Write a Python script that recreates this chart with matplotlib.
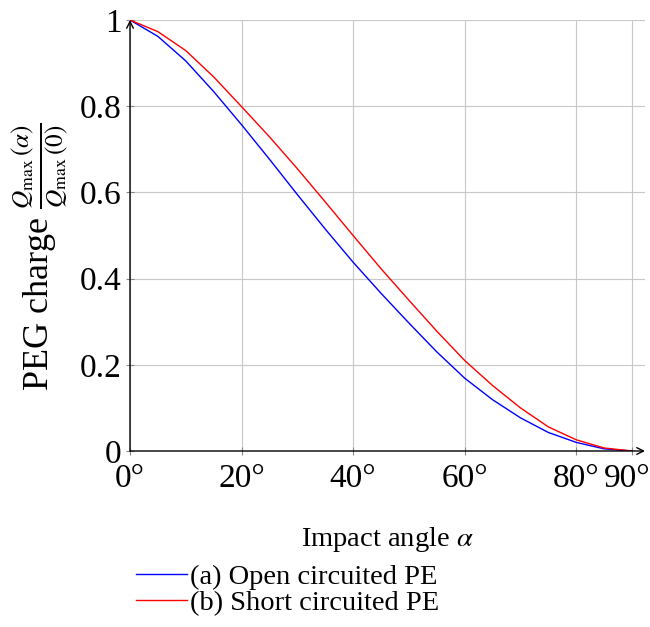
import matplotlib
matplotlib.use("Agg")
import matplotlib.pyplot as plt
import matplotlib.transforms as mtrans

# Data
angles = [0, 5, 10, 15, 20, 25, 30, 35, 40, 45, 50, 55, 60, 65, 70, 75, 80, 85, 90]
open_pe = [1.0, 0.962, 0.905, 0.834, 0.757, 0.677, 0.595, 0.515, 0.438, 0.366,
           0.297, 0.230, 0.169, 0.119, 0.077, 0.043, 0.020, 0.005, 0.0]
short_pe = [1.0, 0.973, 0.929, 0.868, 0.799, 0.729, 0.655, 0.578, 0.500, 0.423,
            0.350, 0.278, 0.210, 0.152, 0.100, 0.056, 0.026, 0.007, 0.0]
xticks = [0, 20, 40, 60, 80, 90]
xticklabels = ["0°", "20°", "40°", "60°", "80°", "90°"]
yticks = [0, 0.2, 0.4, 0.6, 0.8, 1]
yticklabels = ["0", "0.2", "0.4", "0.6", "0.8", "1"]

plt.rcParams['font.family'] = ['Liberation Serif', 'DejaVu Serif']
plt.rcParams['mathtext.fontset'] = 'stix'

FS = 20.5
TFS = 24
fig = plt.figure(figsize=(6.5, 6.27), dpi=100)
W, H = 650, 627
left, right, top, bottom = 130, 645, 20, 451
ax = fig.add_axes([left / W, (H - bottom) / H, (right - left) / W, (bottom - top) / H])

l1, = ax.plot(angles, open_pe, color='blue', lw=1.0, label='(a) Open circuited PE',
              solid_joinstyle='round')
l2, = ax.plot(angles, short_pe, color='red', lw=1.0, label='(b) Short circuited PE',
              solid_joinstyle='round')

ax.set_xlim(0, 90 * (right - left) / (632 - left))
ax.set_ylim(0, 1)
ax.set_xticks(xticks)
ax.set_xticklabels(xticklabels)
ax.set_yticks(yticks)
ax.set_yticklabels(yticklabels)
ax.grid(True, color='#c8c8c8', lw=0.8)
ax.set_axisbelow(True)
ax.tick_params(axis='both', labelsize=TFS, direction='inout', length=6,
               color='#888888', width=0.8)
ax.tick_params(axis='x', pad=6)
ax.tick_params(axis='y', pad=3)
# keep the last x tick label inside the figure
lab = ax.get_xticklabels()[-1]
lab.set_transform(lab.get_transform() +
                  mtrans.ScaledTranslation(-5 / 100, 0, fig.dpi_scale_trans))

for s in ['top', 'right', 'left', 'bottom']:
    ax.spines[s].set_visible(False)

ax.annotate('', xy=(1, 0), xytext=(0, 0), xycoords='axes fraction',
            arrowprops=dict(arrowstyle='->', color='black', lw=1.0,
                            shrinkA=0, shrinkB=0, mutation_scale=12))
ax.annotate('', xy=(0, 1), xytext=(0, 0), xycoords='axes fraction',
            arrowprops=dict(arrowstyle='->', color='black', lw=1.0,
                            shrinkA=0, shrinkB=0, mutation_scale=12))

fig.text(387 / W, 1 - 540 / H, r'Impact angle $\alpha$', fontsize=FS,
         ha='center', va='center')
fig.text(40 / W, 1 - 257 / H,
         r'PEG charge $\frac{Q_{\max}\,(\alpha)}{Q_{\max}\,(0)}$', fontsize=26,
         ha='center', va='center', rotation=90)

fig.legend(handles=[l1, l2], loc='upper left',
           bbox_to_anchor=(136 / W, 1 - 564 / H), frameon=False, fontsize=FS,
           handlelength=1.8, handletextpad=0.08, labelspacing=0.02,
           borderaxespad=0, borderpad=0)

fig.savefig('out.png', dpi=100)
